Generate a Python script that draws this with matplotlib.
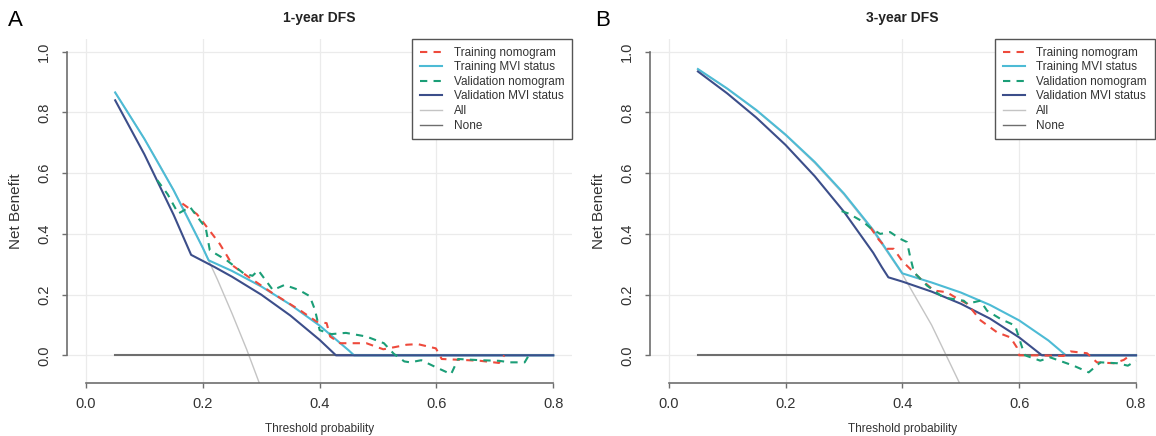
import matplotlib
matplotlib.use("Agg")
import matplotlib.pyplot as plt
from matplotlib.lines import Line2D

plt.rcParams['font.family'] = ['Liberation Sans', 'DejaVu Sans']

# ---- panel A : 1-year DFS ----
a_all_x = [0.05, 0.075, 0.10, 0.125, 0.15, 0.175, 0.20, 0.225, 0.25, 0.275, 0.30]
a_all_y = [0.864, 0.790, 0.713, 0.631, 0.544, 0.452, 0.354, 0.250, 0.138, 0.020, -0.108]

a_tr_mvi_x = [0.05, 0.10, 0.15, 0.20, 0.21, 0.25, 0.30, 0.35, 0.40, 0.45, 0.459, 0.80]
a_tr_mvi_y = [0.866, 0.713, 0.544, 0.354, 0.313, 0.278, 0.227, 0.167, 0.098, 0.016, 0.0, 0.0]

a_va_mvi_x = [0.05, 0.10, 0.15, 0.18, 0.22, 0.25, 0.30, 0.35, 0.40, 0.428, 0.80]
a_va_mvi_y = [0.840, 0.662, 0.463, 0.331, 0.291, 0.259, 0.200, 0.131, 0.051, 0.0, 0.0]

a_tr_nom_x = [0.165, 0.19, 0.212, 0.229, 0.243, 0.251, 0.274, 0.32, 0.366, 0.395, 0.412,
              0.418, 0.435, 0.48, 0.509, 0.531, 0.549, 0.568, 0.599, 0.609, 0.644, 0.675,
              0.707, 0.716]
a_tr_nom_y = [0.50, 0.465, 0.41, 0.367, 0.323, 0.296, 0.264, 0.204, 0.149, 0.111, 0.106,
              0.062, 0.040, 0.040, 0.020, 0.028, 0.035, 0.037, 0.023, -0.012, -0.015, -0.018,
              -0.025, 0.0]

a_va_nom_x = [0.122, 0.14, 0.158, 0.178, 0.195, 0.205, 0.212, 0.241, 0.27, 0.285, 0.295,
              0.32, 0.34, 0.365, 0.383, 0.392, 0.40, 0.42, 0.445, 0.48, 0.51, 0.527, 0.545,
              0.555, 0.574, 0.60, 0.625, 0.637, 0.675, 0.707, 0.726, 0.751, 0.758]
a_va_nom_y = [0.577, 0.53, 0.467, 0.489, 0.445, 0.42, 0.346, 0.313, 0.27, 0.262, 0.28,
              0.215, 0.232, 0.215, 0.195, 0.15, 0.083, 0.070, 0.074, 0.062, 0.040, 0.005, -0.02,
              -0.023, -0.016, -0.04, -0.062, -0.012, -0.016, -0.018, -0.023, -0.023, 0.0]

# ---- panel B : 3-year DFS ----
b_all_x = [0.05, 0.10, 0.15, 0.20, 0.25, 0.30, 0.35, 0.40, 0.45, 0.50]
b_all_y = [0.942, 0.878, 0.806, 0.725, 0.633, 0.529, 0.408, 0.267, 0.10, -0.10]

b_tr_mvi_x = [0.05, 0.10, 0.15, 0.20, 0.25, 0.30, 0.35, 0.40, 0.45, 0.50, 0.55, 0.60, 0.65, 0.68, 0.80]
b_tr_mvi_y = [0.943, 0.879, 0.808, 0.727, 0.637, 0.533, 0.413, 0.270, 0.240, 0.207, 0.166, 0.115, 0.049, 0.0, 0.0]

b_va_mvi_x = [0.05, 0.10, 0.15, 0.20, 0.25, 0.30, 0.35, 0.365, 0.376, 0.40, 0.45, 0.50, 0.55, 0.60, 0.639, 0.80]
b_va_mvi_y = [0.935, 0.863, 0.783, 0.693, 0.590, 0.473, 0.338, 0.290, 0.257, 0.243, 0.210, 0.170, 0.121, 0.059, 0.0, 0.0]

b_tr_nom_x = [0.345, 0.36, 0.374, 0.385, 0.40, 0.419, 0.435, 0.454, 0.476, 0.495, 0.511, 0.534,
              0.562, 0.585, 0.596, 0.60, 0.636, 0.676, 0.688, 0.716, 0.733, 0.762, 0.779, 0.79]
b_tr_nom_y = [0.422, 0.38, 0.351, 0.351, 0.31, 0.274, 0.245, 0.2135, 0.208, 0.186, 0.17, 0.115,
              0.076, 0.059, 0.026, 0.0, 0.0, -0.002, 0.013, 0.007, -0.023, -0.026, -0.015, 0.0]

b_va_nom_x = [0.296, 0.308, 0.3335, 0.345, 0.362, 0.379, 0.396, 0.408, 0.4135, 0.42, 0.442, 0.47,
              0.505, 0.511, 0.5335, 0.545, 0.568, 0.593, 0.605, 0.61, 0.636, 0.653, 0.693, 0.719,
              0.739, 0.768, 0.786, 0.80]
b_va_nom_y = [0.475, 0.467, 0.439, 0.42, 0.40, 0.406, 0.384, 0.373, 0.323, 0.2735, 0.23, 0.191,
              0.18, 0.17, 0.18, 0.147, 0.12, 0.098, 0.026, 0.0, -0.0175, -0.0066, -0.034, -0.056,
              -0.023, -0.026, -0.034, -0.0175]

none_x = [0.05, 0.80]
none_y = [0.0, 0.0]

labels = ['Training nomogram', 'Training MVI status', 'Validation nomogram',
          'Validation MVI status', 'All', 'None']
x_ticks = [0.0, 0.2, 0.4, 0.6, 0.8]
y_ticks = [0.0, 0.2, 0.4, 0.6, 0.8, 1.0]

RED = '#EE4A3C'
BLUE = '#4DBBD5'
GREEN = '#1B9E77'
NAVY = '#3C4E8A'
ALL_C = '#C4C4C4'
NONE_C = '#6E6E6E'
AX_C = '#6E6E6E'
TXT_C = '#333333'
DASH = (3.5, 3)


def draw_panel(ax, title, all_xy, tr_mvi, va_mvi, tr_nom, va_nom):
    ax.set_xlim(-0.032, 0.832)
    ax.set_ylim(-0.092, 1.042)
    ax.set_xticks(x_ticks)
    ax.set_yticks(y_ticks)
    ax.grid(True, color='#EBEBEB', lw=0.9)
    ax.set_axisbelow(True)

    ax.plot(*all_xy, color=ALL_C, lw=1.0)
    ax.plot(none_x, none_y, color=NONE_C, lw=1.5)
    ax.plot(*tr_mvi, color=BLUE, lw=1.5)
    ax.plot(*va_mvi, color=NAVY, lw=1.5)
    ax.plot(*tr_nom, color=RED, lw=1.5, dashes=DASH)
    ax.plot(*va_nom, color=GREEN, lw=1.5, dashes=DASH)

    for s in ['top', 'right']:
        ax.spines[s].set_visible(False)
    ax.spines['bottom'].set_bounds(0, 0.8)
    ax.spines['left'].set_bounds(0, 1.0)
    for s in ['bottom', 'left']:
        ax.spines[s].set_color(AX_C)
        ax.spines[s].set_linewidth(1.2)
    ax.tick_params(axis='both', colors=AX_C, labelcolor=TXT_C, length=3.6,
                   width=1.0, labelsize=10.5)
    ax.tick_params(axis='x', pad=6)
    ax.tick_params(axis='y', pad=8, labelrotation=90)
    ax.set_xticklabels(['%.1f' % v for v in x_ticks])
    ax.set_yticklabels(['%.1f' % v for v in y_ticks], va='center')

    ax.set_title(title, fontweight='bold', fontsize=10, pad=12, color='#222222')
    ax.set_xlabel('Threshold probability', fontsize=8.5, color=TXT_C, labelpad=9)
    ax.set_ylabel('Net Benefit', fontsize=11, color=TXT_C, labelpad=10)

    handles = [
        Line2D([], [], color=RED, lw=1.5, dashes=DASH),
        Line2D([], [], color=BLUE, lw=1.5),
        Line2D([], [], color=GREEN, lw=1.5, dashes=DASH),
        Line2D([], [], color=NAVY, lw=1.5),
        Line2D([], [], color=ALL_C, lw=1.0),
        Line2D([], [], color=NONE_C, lw=1.0),
    ]
    leg = ax.legend(handles, labels, loc='upper right', borderaxespad=0, fontsize=8.5,
                    fancybox=False, framealpha=1, edgecolor='#555555', handlelength=1.85,
                    handletextpad=1.0, labelspacing=0.22, borderpad=0.65)
    leg.get_frame().set_linewidth(1.0)
    for t in leg.get_texts():
        t.set_color(TXT_C)


fig = plt.figure(figsize=(11.56, 4.36), dpi=100)
ax_a = fig.add_axes([0.0582, 0.1209, 0.4366, 0.7897])
ax_b = fig.add_axes([0.5623, 0.1209, 0.4366, 0.7897])

draw_panel(ax_a, '1-year DFS', (a_all_x, a_all_y), (a_tr_mvi_x, a_tr_mvi_y),
           (a_va_mvi_x, a_va_mvi_y), (a_tr_nom_x, a_tr_nom_y), (a_va_nom_x, a_va_nom_y))
draw_panel(ax_b, '3-year DFS', (b_all_x, b_all_y), (b_tr_mvi_x, b_tr_mvi_y),
           (b_va_mvi_x, b_va_mvi_y), (b_tr_nom_x, b_tr_nom_y), (b_va_nom_x, b_va_nom_y))

fig.text(0.007, 0.952, 'A', fontsize=16, va='center', ha='left')
fig.text(0.5144, 0.952, 'B', fontsize=16, va='center', ha='left')

fig.savefig('out.png', dpi=100)
